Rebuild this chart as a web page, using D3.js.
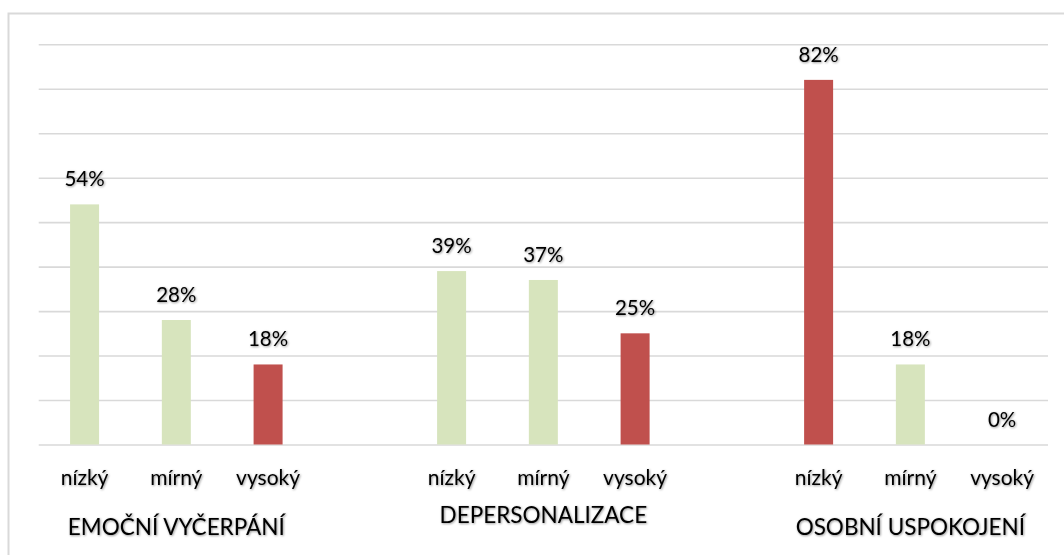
<!DOCTYPE html>
<html>
<head>
<meta charset="utf-8">
<script src="https://cdn.jsdelivr.net/npm/d3@7"></script>
<style>
  html, body { margin: 0; padding: 0; background: #ffffff; }
  svg { display: block; }
  text { font-family: Lato, "Open Sans", sans-serif; fill: #000; }
</style>
</head>
<body>
<svg id="chart" width="1064" height="555"></svg>
<script>
// Burnout dimensions and the share of respondents at each level
const groups = ["EMOČNÍ VYČERPÁNÍ", "DEPERSONALIZACE", "OSOBNÍ USPOKOJENÍ"];
const levels = ["nízký", "mírný", "vysoký"];
const emocniVycerpani = [54, 28, 18];
const depersonalizace = [39, 37, 25];
const osobniUspokojeni = [82, 18, 0];
// which level is highlighted as the critical one in each dimension
const criticalLevel = ["vysoký", "vysoký", "nízký"];
const yTicks = [0, 10, 20, 30, 40, 50, 60, 70, 80, 90];

const seriesValues = [emocniVycerpani, depersonalizace, osobniUspokojeni];

const W = 1064, H = 555;
const margin = { left: 38.7, right: 16, top: 44.3, bottom: 110.5 };
const plotRight = W - margin.right;
const plotBottom = H - margin.bottom;

const svg = d3.select("#chart");

// soft shadow used on all chart text
const defs = svg.append("defs");
const f = defs.append("filter").attr("id", "txtShadow")
  .attr("x", "-10%").attr("y", "-20%").attr("width", "130%").attr("height", "150%");
f.append("feDropShadow").attr("dx", 0.8).attr("dy", 0.8)
  .attr("stdDeviation", 0.8).attr("flood-color", "#000").attr("flood-opacity", 0.45);

// chart frame
svg.append("rect")
  .attr("x", 8.5).attr("y", 13.5).attr("width", 1070).attr("height", 600)
  .attr("fill", "none").attr("stroke", "#d9d9d9").attr("stroke-width", 2);

// slot keys: three levels per group, with an empty slot between groups
const slots = [];
groups.forEach((g, gi) => {
  levels.forEach(l => slots.push(g + "|" + l));
  if (gi < groups.length - 1) slots.push("gap" + gi);
});

const x = d3.scaleBand().domain(slots).range([margin.left, plotRight]).padding(0);
const barW = x.bandwidth() * 0.316;

const y = d3.scaleLinear().domain([0, 90]).range([plotBottom, margin.top]);

// horizontal gridlines
const yAxis = d3.axisLeft(y).tickValues(yTicks).tickSize(-(plotRight - margin.left)).tickFormat("");
const gy = svg.append("g").attr("transform", `translate(${margin.left},0)`).call(yAxis);
gy.select(".domain").remove();
gy.selectAll(".tick line").attr("stroke", "#d9d9d9").attr("stroke-width", 1.6);

// flatten the data
const data = [];
groups.forEach((g, gi) => {
  levels.forEach((l, li) => {
    data.push({ group: g, level: l, key: g + "|" + l, value: seriesValues[gi][li], critical: criticalLevel[gi] === l });
  });
});

// bars
svg.append("g").selectAll("rect").data(data).join("rect")
  .attr("x", d => x(d.key) + (x.bandwidth() - barW) / 2)
  .attr("width", barW)
  .attr("y", d => y(d.value))
  .attr("height", d => y(0) - y(d.value))
  .attr("fill", d => d.critical ? "#c0504d" : "#d7e4bd");

// value labels
svg.append("g").selectAll("text").data(data).join("text")
  .attr("x", d => x(d.key) + x.bandwidth() / 2)
  .attr("y", d => y(d.value) - 18)
  .attr("text-anchor", "middle")
  .attr("font-size", 20.5)
  .attr("filter", "url(#txtShadow)")
  .text(d => d.value + "%");

// level labels under each bar
svg.append("g").selectAll("text").data(data).join("text")
  .attr("x", d => x(d.key) + x.bandwidth() / 2)
  .attr("y", plotBottom + 40.5)
  .attr("text-anchor", "middle")
  .attr("font-size", 21)
  .attr("filter", "url(#txtShadow)")
  .text(d => d.level);

// group labels, centred under their three bars; labels whose capitals carry
// diacritics sit a little lower, as their ink is vertically centred
const accented = /[ÁČĎÉĚÍŇÓŘŠŤÚŮÝŽ]/;
svg.append("g").selectAll("text").data(groups).join("text")
  .attr("x", g => x(g + "|" + levels[1]) + x.bandwidth() / 2)
  .attr("y", g => plotBottom + (accented.test(g) ? 90.5 : 78.5))
  .attr("text-anchor", "middle")
  .attr("font-size", 22.5)
  .attr("filter", "url(#txtShadow)")
  .text(g => g);
</script>
</body>
</html>
